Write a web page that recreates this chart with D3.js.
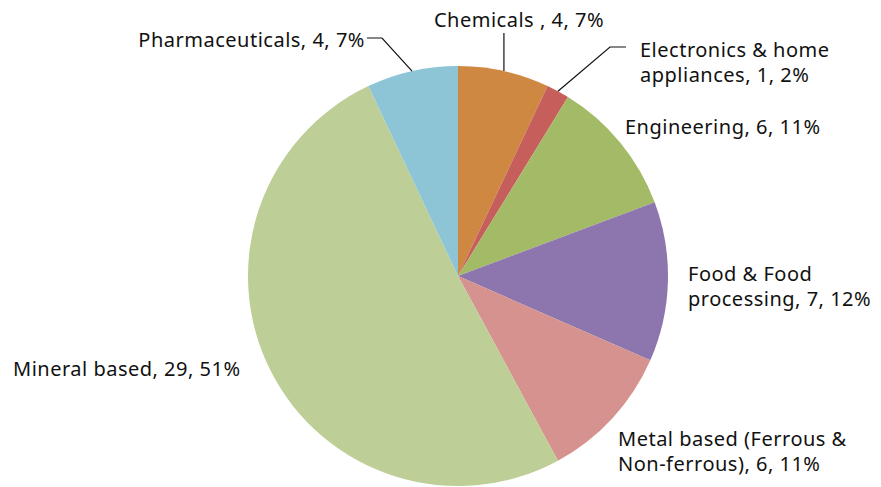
<!DOCTYPE html>
<html>
<head>
<meta charset="utf-8">
<title>Industries pie</title>
<script src="https://d3js.org/d3.v7.min.js"></script>
<style>
  body { margin: 0; background: #fff; }
  .lbl { font: 20px "Noto Sans", sans-serif; letter-spacing: 0.5px; fill: #111; }
  .leader { fill: none; stroke: #111; stroke-width: 1.2px; }
</style>
</head>
<body>
<svg id="chart" width="881" height="487"></svg>
<script>
// data
var categories = ["Chemicals ", "Electronics & home appliances", "Engineering", "Food & Food processing",
                  "Metal based (Ferrous & Non-ferrous)", "Mineral based", "Pharmaceuticals"];
var counts = [4, 1, 6, 7, 6, 29, 4];
var percents = ["7%", "2%", "11%", "12%", "11%", "51%", "7%"];
var colors = ["#CF8841", "#C65F5B", "#A3BB67", "#8C76AD", "#D6928F", "#BDCF96", "#8EC5D6"];

// label lines as they wrap in the picture
var labelLines = [
  ["Chemicals , 4, 7%"],
  ["Electronics & home", "appliances, 1, 2%"],
  ["Engineering, 6, 11%"],
  ["Food & Food", "processing, 7, 12%"],
  ["Metal based (Ferrous &", "Non-ferrous), 6, 11%"],
  ["Mineral based, 29, 51%"],
  ["Pharmaceuticals, 4, 7%"]
];

// label layout: anchor point + text anchor, and whether a leader line is drawn
var labelPos = [
  {x: 519, y: 27, anchor: "middle", leader: "vertical"},
  {x: 640, y: 57, anchor: "start", leader: "elbowRight"},
  {x: 625, y: 134, anchor: "start"},
  {x: 688, y: 281, anchor: "start"},
  {x: 618, y: 446, anchor: "start"},
  {x: 13, y: 376, anchor: "start"},
  {x: 365, y: 47, anchor: "end", leader: "elbowLeft"}
];

var cx = 458, cy = 276, radius = 210;
var lineH = 25;

var svg = d3.select("#chart");
var g = svg.append("g").attr("transform", "translate(" + cx + "," + cy + ")");

var pie = d3.pie().sort(null).value(function(d) { return d; });
var arcs = pie(counts);
var arc = d3.arc().innerRadius(0).outerRadius(radius);

g.selectAll("path.slice")
  .data(arcs)
  .enter().append("path")
  .attr("class", "slice")
  .attr("d", arc)
  .attr("fill", function(d, i) { return colors[i]; });

// leader lines
arcs.forEach(function(d, i) {
  var p = labelPos[i];
  if (!p.leader) return;
  var mid = (d.startAngle + d.endAngle) / 2;
  var ex = Math.sin(mid) * radius, ey = -Math.cos(mid) * radius;
  var pts;
  if (p.leader == "vertical") {
    pts = [[ex, ey], [ex, 33 - cy]];
  } else if (p.leader == "elbowRight") {
    pts = [[ex, ey], [610 - cx, 47 - cy], [626 - cx, 47 - cy]];
  } else {
    pts = [[ex, ey], [382 - cx, 38 - cy], [367 - cx, 38 - cy]];
  }
  g.append("path").attr("class", "leader").attr("d", d3.line()(pts));
});

// labels
labelLines.forEach(function(lines, i) {
  var p = labelPos[i];
  var t = svg.append("text").attr("class", "lbl").attr("text-anchor", p.anchor);
  lines.forEach(function(s, k) {
    t.append("tspan").attr("x", p.x).attr("y", p.y + k * lineH).text(s);
  });
});
</script>
</body>
</html>
